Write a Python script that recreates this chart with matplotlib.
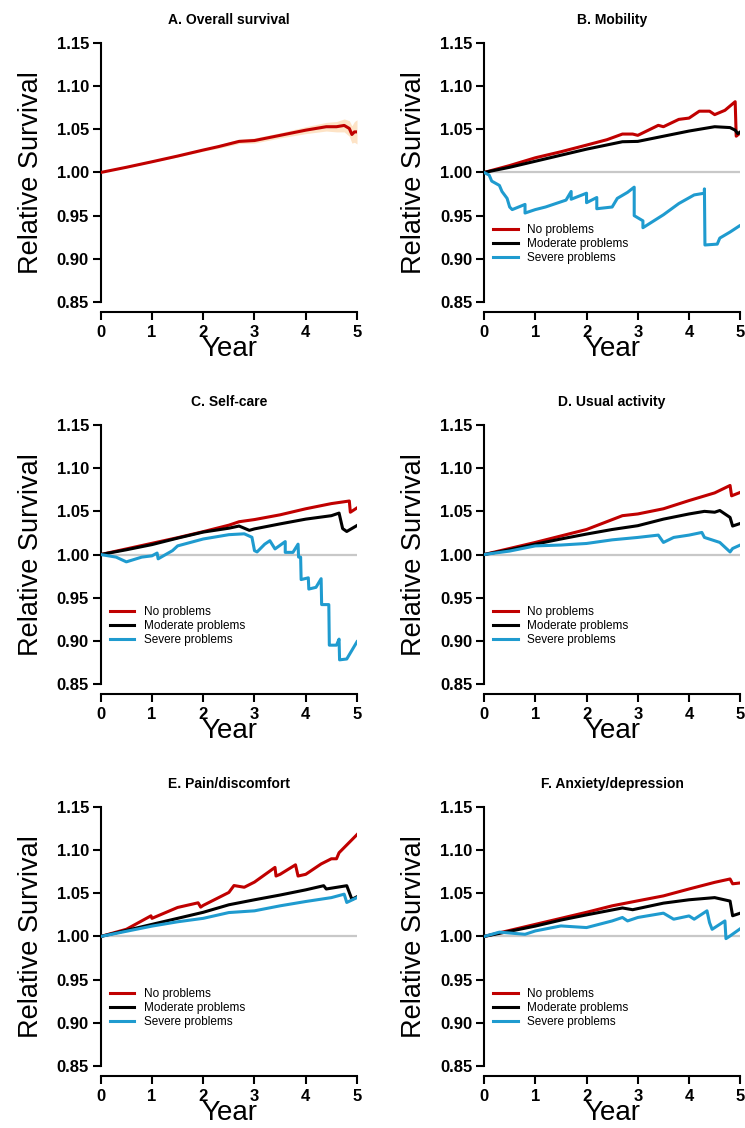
import matplotlib
matplotlib.use("Agg")
import matplotlib.pyplot as plt

plt.rcParams['font.family'] = ['Liberation Sans', 'DejaVu Sans']

RED = "#c00000"
BLACK = "#000000"
BLUE = "#1f9bcf"
GREY = "#c8c8c8"

LEGEND_LABELS = ["No problems", "Moderate problems", "Severe problems"]
YTICKS = [0.85, 0.90, 0.95, 1.00, 1.05, 1.10, 1.15]
XTICKS = [0, 1, 2, 3, 4, 5]

# A. Overall survival (with confidence band)
A_t = [0, 0.5, 1, 1.5, 2, 2.3, 2.6, 2.7, 3.0, 3.5, 4.0, 4.4, 4.6, 4.75, 4.85, 4.9, 4.95, 5.0]
A_rs = [1.0, 1.006, 1.0124, 1.019, 1.026, 1.030, 1.0345, 1.036, 1.037, 1.043, 1.049, 1.053, 1.053, 1.0545, 1.051, 1.044, 1.047, 1.047]
A_lo = [1.0, 1.0055, 1.0118, 1.018, 1.0245, 1.028, 1.032, 1.0335, 1.034, 1.040, 1.045, 1.048, 1.047, 1.047, 1.042, 1.034, 1.035, 1.033]
A_hi = [1.0, 1.0065, 1.013, 1.020, 1.0275, 1.032, 1.037, 1.0385, 1.040, 1.046, 1.053, 1.058, 1.059, 1.062, 1.060, 1.054, 1.059, 1.061]

# B. Mobility
B_no_t = [0, 0.5, 1, 1.5, 2, 2.4, 2.7, 2.9, 3.0, 3.4, 3.5, 3.8, 4.0, 4.2, 4.4, 4.5, 4.7, 4.9, 4.92, 5.0]
B_no = [1.0, 1.008, 1.017, 1.024, 1.0317, 1.038, 1.0445, 1.0445, 1.043, 1.0546, 1.053, 1.0615, 1.063, 1.071, 1.071, 1.067, 1.072, 1.082, 1.042, 1.046]
B_mod_t = [0, 0.5, 1, 1.5, 2, 2.7, 3.0, 3.5, 4.0, 4.5, 4.8, 4.9, 4.95, 5.0]
B_mod = [1.0, 1.006, 1.013, 1.020, 1.027, 1.0356, 1.036, 1.042, 1.048, 1.053, 1.052, 1.049, 1.045, 1.047]
B_sev_t = [0, 0.1, 0.15, 0.3, 0.35, 0.45, 0.5, 0.55, 0.8, 0.8, 1.0, 1.2, 1.4, 1.6, 1.7, 1.7, 2.0, 2.0, 2.2, 2.2, 2.5, 2.6, 2.8, 2.93, 2.93, 3.1, 3.1, 3.5, 3.8, 4.1, 4.3, 4.3, 4.31, 4.55, 4.6, 4.8, 4.98]
B_sev = [1.0, 0.997, 0.99, 0.985, 0.978, 0.97, 0.96, 0.957, 0.963, 0.953, 0.957, 0.960, 0.964, 0.968, 0.978, 0.969, 0.976, 0.965, 0.971, 0.958, 0.960, 0.970, 0.977, 0.983, 0.950, 0.944, 0.936, 0.951, 0.964, 0.974, 0.976, 0.981, 0.916, 0.917, 0.924, 0.931, 0.938]

# C. Self-care
C_no_t = [0, 0.5, 1, 1.5, 2, 2.5, 2.7, 3.0, 3.5, 4.0, 4.5, 4.85, 4.87, 5.0]
C_no = [1.0, 1.0065, 1.013, 1.0195, 1.0265, 1.034, 1.038, 1.0405, 1.046, 1.053, 1.059, 1.062, 1.049, 1.054]
C_mod_t = [0, 0.5, 1, 1.5, 2, 2.5, 2.7, 2.9, 3.0, 3.5, 4.0, 4.5, 4.65, 4.72, 4.8, 5.0]
C_mod = [1.0, 1.0055, 1.0115, 1.019, 1.026, 1.0305, 1.033, 1.028, 1.0297, 1.0355, 1.041, 1.045, 1.048, 1.030, 1.0267, 1.0336]
C_sev_t = [0, 0.3, 0.5, 0.8, 1.0, 1.1, 1.12, 1.4, 1.5, 2.0, 2.5, 2.8, 2.95, 3.0, 3.05, 3.2, 3.3, 3.4, 3.6, 3.6, 3.75, 3.85, 3.86, 3.9, 3.91, 4.05, 4.06, 4.2, 4.3, 4.31, 4.45, 4.46, 4.6, 4.65, 4.66, 4.8, 5.0]
C_sev = [1.0, 0.997, 0.9915, 0.997, 0.9985, 1.0017, 0.995, 1.0045, 1.010, 1.018, 1.023, 1.024, 1.020, 1.0045, 1.003, 1.012, 1.016, 1.0065, 1.015, 1.0025, 1.0025, 1.012, 0.997, 0.997, 0.971, 0.973, 0.960, 0.962, 0.972, 0.942, 0.942, 0.895, 0.895, 0.902, 0.878, 0.879, 0.899]

# D. Usual activity
D_no_t = [0, 0.5, 1, 1.5, 2, 2.7, 3.0, 3.5, 4.0, 4.5, 4.8, 4.83, 5.0]
D_no = [1.0, 1.007, 1.014, 1.0215, 1.029, 1.045, 1.047, 1.053, 1.0625, 1.0714, 1.080, 1.068, 1.072]
D_mod_t = [0, 0.5, 1, 1.5, 2, 2.5, 3.0, 3.5, 4.0, 4.3, 4.5, 4.6, 4.8, 4.85, 5.0]
D_mod = [1.0, 1.0055, 1.012, 1.018, 1.0237, 1.029, 1.0334, 1.041, 1.047, 1.050, 1.049, 1.051, 1.043, 1.033, 1.036]
D_sev_t = [0, 0.5, 1, 1.5, 2, 2.5, 3.0, 3.4, 3.5, 3.7, 4.0, 4.25, 4.3, 4.6, 4.8, 4.85, 5.0]
D_sev = [1.0, 1.004, 1.010, 1.011, 1.0128, 1.017, 1.0198, 1.0225, 1.014, 1.0198, 1.0225, 1.0256, 1.0198, 1.014, 1.003, 1.007, 1.011]

# E. Pain/discomfort
E_no_t = [0, 0.5, 0.98, 1.0, 1.5, 1.9, 1.95, 2.0, 2.5, 2.6, 2.8, 3.0, 3.4, 3.42, 3.5, 3.8, 3.85, 4.0, 4.3, 4.5, 4.6, 4.65, 5.0]
E_no = [1.0, 1.0083, 1.0239, 1.021, 1.0336, 1.039, 1.034, 1.036, 1.051, 1.059, 1.057, 1.063, 1.080, 1.070, 1.072, 1.083, 1.070, 1.072, 1.084, 1.090, 1.090, 1.097, 1.118]
E_mod_t = [0, 0.5, 1, 1.5, 2, 2.5, 3.0, 3.5, 4.0, 4.35, 4.4, 4.8, 4.9, 5.0]
E_mod = [1.0, 1.007, 1.014, 1.021, 1.028, 1.0367, 1.0425, 1.048, 1.054, 1.0588, 1.055, 1.0588, 1.043, 1.046]
E_sev_t = [0, 0.5, 1, 1.5, 2, 2.5, 3.0, 3.5, 4.0, 4.5, 4.75, 4.8, 5.0]
E_sev = [1.0, 1.006, 1.012, 1.017, 1.021, 1.0277, 1.0297, 1.0355, 1.0405, 1.045, 1.049, 1.0394, 1.045]

# F. Anxiety/depression
F_no_t = [0, 0.5, 1, 1.5, 2, 2.5, 3.0, 3.5, 4.0, 4.5, 4.8, 4.85, 5.0]
F_no = [1.0, 1.007, 1.014, 1.021, 1.028, 1.0355, 1.0413, 1.047, 1.055, 1.0627, 1.0666, 1.061, 1.062]
F_mod_t = [0, 0.5, 1, 1.5, 2, 2.7, 2.9, 3.5, 4.0, 4.5, 4.8, 4.85, 5.0]
F_mod = [1.0, 1.006, 1.012, 1.019, 1.025, 1.033, 1.031, 1.0386, 1.0425, 1.045, 1.041, 1.024, 1.027]
F_sev_t = [0, 0.3, 0.8, 1.0, 1.5, 2.0, 2.5, 2.7, 2.8, 3.0, 3.5, 3.7, 4.0, 4.1, 4.35, 4.4, 4.45, 4.7, 4.72, 4.8, 5.0]
F_sev = [1.0, 1.005, 1.0025, 1.0064, 1.0122, 1.0103, 1.018, 1.022, 1.018, 1.022, 1.027, 1.020, 1.0238, 1.020, 1.0297, 1.016, 1.0083, 1.018, 0.9975, 1.0006, 1.009]

# axes positions (left, bottom, width, height) in figure fractions
COL_LEFT = [0.1352, 0.6497]
ROW_BOTTOM = [0.7323, 0.3936, 0.0550]
AX_W = 0.344
AX_H = 0.2296


def style_axes(ax, title):
    ax.set_xlim(0, 5)
    ax.set_ylim(0.85, 1.15)
    ax.set_xticks(XTICKS)
    ax.set_yticks(YTICKS)
    ax.set_yticklabels(["%.2f" % v for v in YTICKS])
    for side in ["top", "right"]:
        ax.spines[side].set_visible(False)
    ax.spines["left"].set_bounds(0.85, 1.15)
    ax.spines["bottom"].set_position(("outward", 7.2))
    ax.spines["left"].set_linewidth(1.5)
    ax.spines["bottom"].set_linewidth(1.5)
    ax.tick_params(axis="both", direction="out", length=5.5, width=1.5,
                   labelsize=12)
    ax.tick_params(axis="y", pad=3)
    ax.tick_params(axis="x", pad=4)
    for lab in ax.get_xticklabels() + ax.get_yticklabels():
        lab.set_fontweight("bold")
    ax.set_title(title, fontsize=10, fontweight="bold", pad=14)
    ax.set_ylabel("Relative Survival", fontsize=19.5, labelpad=9)
    ax.set_xlabel("Year", fontsize=20, labelpad=-3)


def plot_groups(ax, no_t, no, mod_t, mod, sev_t, sev):
    ax.axhline(1.0, color=GREY, lw=1.6, zorder=1)
    ax.plot(no_t, no, color=RED, lw=2.2, label=LEGEND_LABELS[0], zorder=3)
    ax.plot(mod_t, mod, color=BLACK, lw=2.2, label=LEGEND_LABELS[1], zorder=3)
    ax.plot(sev_t, sev, color=BLUE, lw=2.2, label=LEGEND_LABELS[2], zorder=3)
    ax.legend(loc="upper left", bbox_to_anchor=(0.035, 0.30), frameon=False,
              fontsize=8.5, handlelength=2.1, handletextpad=0.8,
              labelspacing=0.15, borderpad=0, borderaxespad=0)


fig = plt.figure(figsize=(7.45, 11.28), dpi=100)

axA = fig.add_axes([COL_LEFT[0], ROW_BOTTOM[0], AX_W, AX_H])
axA.fill_between(A_t, A_lo, A_hi, color="#fde3c6", lw=0, zorder=2)
axA.plot(A_t, A_rs, color=RED, lw=2.2, zorder=3)
style_axes(axA, "A. Overall survival")

panels = [
    (COL_LEFT[1], ROW_BOTTOM[0], "B. Mobility", B_no_t, B_no, B_mod_t, B_mod, B_sev_t, B_sev),
    (COL_LEFT[0], ROW_BOTTOM[1], "C. Self-care", C_no_t, C_no, C_mod_t, C_mod, C_sev_t, C_sev),
    (COL_LEFT[1], ROW_BOTTOM[1], "D. Usual activity", D_no_t, D_no, D_mod_t, D_mod, D_sev_t, D_sev),
    (COL_LEFT[0], ROW_BOTTOM[2], "E. Pain/discomfort", E_no_t, E_no, E_mod_t, E_mod, E_sev_t, E_sev),
    (COL_LEFT[1], ROW_BOTTOM[2], "F. Anxiety/depression", F_no_t, F_no, F_mod_t, F_mod, F_sev_t, F_sev),
]
for left, bottom, title, nt, n, mt, m, st, s in panels:
    ax = fig.add_axes([left, bottom, AX_W, AX_H])
    plot_groups(ax, nt, n, mt, m, st, s)
    style_axes(ax, title)

fig.savefig("out.png", dpi=100)
